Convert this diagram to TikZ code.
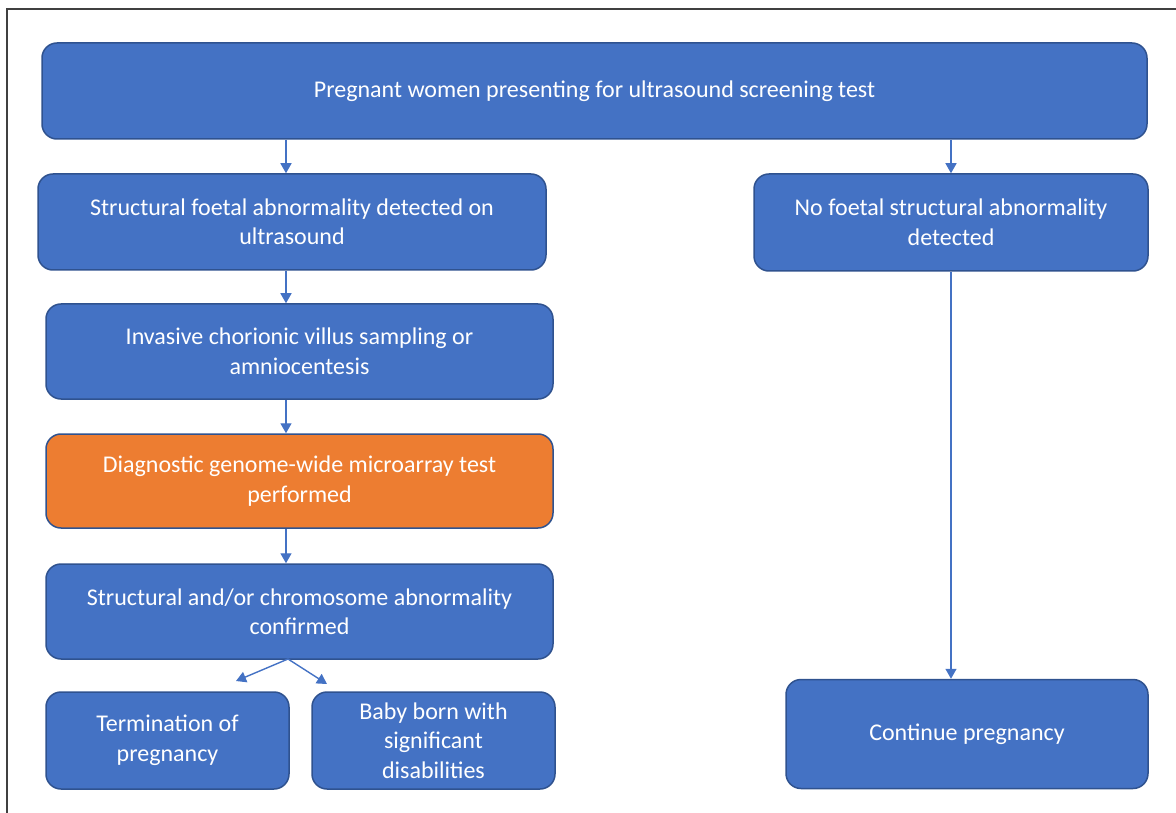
\documentclass[tikz,border=0pt]{standalone}
\usepackage{fontspec}
\setmainfont{Carlito}
\usepackage{tikz}
\usetikzlibrary{arrows.meta}
\definecolor{boxblue}{HTML}{4472C4}
\definecolor{boxedge}{HTML}{2F528F}
\definecolor{boxorange}{HTML}{ED7D31}

\begin{document}
\begin{tikzpicture}[x=1pt,y=-1pt]
\tikzstyle{box}=[rectangle, rounded corners=15pt, fill=boxblue, draw=boxedge, line width=1.5pt,
    text=white, align=center, inner sep=0pt, font=\fontsize{24}{29.5}\selectfont]
\tikzstyle{arr}=[draw=boxblue, line width=1.4pt, -{Triangle[length=10pt,width=11pt]}]

\useasboundingbox (0,0) rectangle (1176,813);
\draw[black!75, line width=2pt] (7,813) -- (7,9) -- (1176,9);

    \node[box, minimum width = 1105pt,
    minimum height = 96pt] (screen) at (594.5,91) {Pregnant women presenting for ultrasound screening test};

    \node[box, minimum width = 508pt,
    minimum height = 96pt] (detect) at (292,222) {Structural foetal abnormality detected on\\ultrasound};

    \node[box, minimum width = 394pt,
    minimum height = 97pt] (nodetect) at (951,222.5) {No foetal structural abnormality\\detected};

    \node[box, minimum width = 507pt,
    minimum height = 95pt] (invasive) at (299.5,351.5) {Invasive chorionic villus sampling or\\amniocentesis};

    \node[box, fill=boxorange, minimum width = 507pt,
    minimum height = 94pt] (array) at (299.5,481) {Diagnostic genome-wide microarray test\\performed};

    \node[box, minimum width = 507pt,
    minimum height = 95pt] (confirm) at (299.5,611.5) {Structural and/or chromosome abnormality\\confirmed};

    \node[box, minimum width = 243pt,
    minimum height = 97pt] (top) at (167.5,740.5) {Termination of\\pregnancy};

    \node[box, minimum width = 243pt,
    minimum height = 97pt] (baby) at (433.5,740.5) {Baby born with\\significant\\disabilities};

    \node[box, minimum width = 362pt,
    minimum height = 109pt] (cont) at (967,734) {Continue pregnancy};

\coordinate (lx) at (286,0);
\coordinate (rx) at (951,0);
\coordinate (fork) at (288,659);
\coordinate (toTop) at (236,681);
\coordinate (toBaby) at (327,684);

\draw[arr] (screen.south -| lx) -- (detect.north -| lx);
\draw[arr] (screen.south -| rx) -- (nodetect.north -| rx);
\draw[arr] (detect.south -| lx) -- (invasive.north -| lx);
\draw[arr] (invasive.south -| lx) -- (array.north -| lx);
\draw[arr] (array.south -| lx) -- (confirm.north -| lx);
\draw[arr] (nodetect.south -| rx) -- (cont.north -| rx);
\draw[arr] (fork) -- (toTop);
\draw[arr] (fork) -- (toBaby);
\end{tikzpicture}
\end{document}
